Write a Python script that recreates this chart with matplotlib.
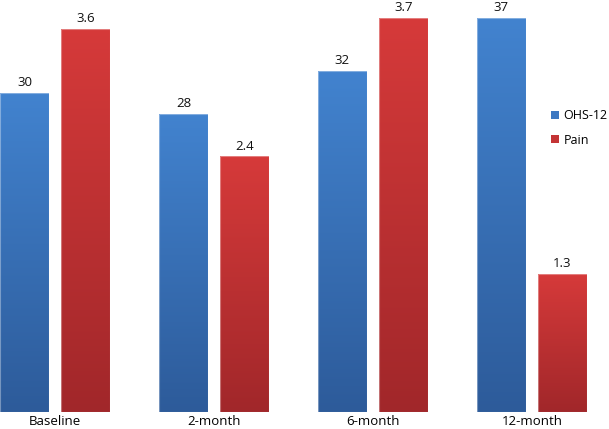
import numpy as np
import matplotlib
matplotlib.use("Agg")
import matplotlib.pyplot as plt
from matplotlib.colors import LinearSegmentedColormap
from matplotlib.patches import Patch

plt.rcParams["font.family"] = ["Open Sans", "DejaVu Sans"]

categories = ["Baseline", "2-month", "6-month", "12-month"]
ohs12 = [30, 28, 32, 37]
pain = [3.6, 2.4, 3.7, 1.3]
ohs_labels = ["30", "28", "32", "37"]
pain_labels = ["3.6", "2.4", "3.7", "1.3"]

blue_cmap = LinearSegmentedColormap.from_list("b", ["#2d5b9a", "#4283cf"])
red_cmap = LinearSegmentedColormap.from_list("r", ["#a1272a", "#d63a3a"])

W, H = 609, 429
fig = plt.figure(figsize=(W / 100, H / 100), dpi=100)
ax1 = fig.add_axes([0, 17 / H, 1, 412 / H])
ax2 = ax1.twinx()

x = np.arange(len(categories))
width = 0.308
off = 0.192
grad = np.linspace(0, 1, 256)[:, None]


def gradient_bars(ax, xs, vals, cmap, labels):
    bars = ax.bar(xs, vals, width, color="none", edgecolor="none")
    for b, lab in zip(bars, labels):
        x0, y1 = b.get_x(), b.get_height()
        im = ax.imshow(grad, cmap=cmap, origin="lower", aspect="auto",
                       extent=[x0, x0 + b.get_width(), 0, y1], zorder=2)
        im.set_clip_path(b)
        ax.add_patch(plt.Rectangle((x0, 0), b.get_width(), y1, fill=False,
                                   edgecolor=(1, 1, 1, 0.35), lw=0.8, zorder=3))
        ax.annotate(lab, (b.get_x() + b.get_width() / 2, y1), xytext=(0, 7.5),
                    textcoords="offset points", ha="center", va="center",
                    fontsize=9.5, color="#111111")
    return bars


gradient_bars(ax1, x - off, ohs12, blue_cmap, ohs_labels)
gradient_bars(ax2, x + off, pain, red_cmap, pain_labels)

for ax, top in ((ax1, 37 * 412 / 394), (ax2, 3.7 * 412 / 394)):
    ax.set_xlim(-55 / 159, (W - 55) / 159)
    ax.set_ylim(0, top)
    ax.set_yticks([])
    for s in ax.spines.values():
        s.set_visible(False)

ax1.set_xticks(x)
ax1.set_xticklabels(categories, fontsize=9.5)
ax1.tick_params(axis="x", length=0, pad=2)
ax2.tick_params(axis="x", length=0)

handles = [Patch(facecolor="#3d78c2", label="OHS-12"),
           Patch(facecolor="#c43435", label="Pain")]
fig.legend(handles=handles, loc="center left", bbox_to_anchor=(551 / W, 1 - 128 / H),
           frameon=False, fontsize=9, handlelength=0.6, handleheight=0.6,
           handletextpad=0.4, labelspacing=0.9, borderpad=0, borderaxespad=0)

fig.savefig("out.png", dpi=100)
